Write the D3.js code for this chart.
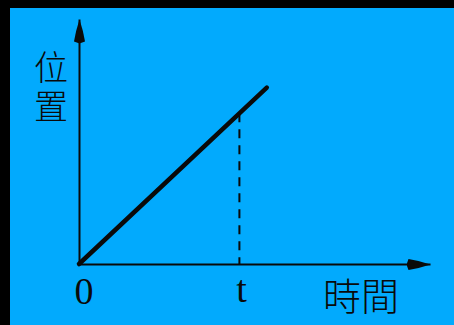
<!DOCTYPE html>
<html>
<head>
<meta charset="utf-8">
<script src="https://cdn.jsdelivr.net/npm/d3@7"></script>
<style>
  html, body { margin: 0; padding: 0; background: #000; }
  svg { display: block; }
</style>
</head>
<body>
<svg id="chart" width="454" height="325"></svg>
<script>
// Uniform motion: position grows linearly with time
const timeValues = [0, 5.35];
const positionValues = [0, 7.2];
const markedTime = 4.57;
const axisMax = { time: 10, position: 10 };
const labels = { yTitle: "位置", xTitle: "時間", origin: "0", mark: "t" };

const svg = d3.select("#chart");
const W = 454, H = 325;

// Blue panel inside a dark frame
svg.append("rect").attr("x", 0).attr("y", 0).attr("width", W).attr("height", H).attr("fill", "#000");
svg.append("rect").attr("x", 10).attr("y", 8).attr("width", W - 10).attr("height", H - 8).attr("fill", "#02aafd");

const x = d3.scaleLinear().domain([0, axisMax.time]).range([79, 430]);
const y = d3.scaleLinear().domain([0, axisMax.position]).range([264, 19]);

const ink = "#0a0a0a";

// Arrowheads: solid, slightly bulging teardrop
const defs = svg.append("defs");
["arrowX", "arrowY"].forEach(id => {
  defs.append("marker")
    .attr("id", id).attr("viewBox", "0 0 24 12")
    .attr("refX", 24).attr("refY", 6)
    .attr("markerWidth", 24).attr("markerHeight", 12)
    .attr("markerUnits", "userSpaceOnUse").attr("orient", "auto")
    .append("path").attr("d", "M0,6 L2,0.5 Q12,2 24,6 Q12,10 2,11.5 Z").attr("fill", ink);
});

// Axes (no ticks; only the baselines)
const xAxis = svg.append("g")
  .attr("transform", `translate(0,${y(0)})`)
  .call(d3.axisBottom(x).tickValues([]).tickSizeOuter(0));
xAxis.select(".domain").attr("stroke", ink).attr("stroke-width", 2).attr("marker-end", "url(#arrowX)");

const yAxis = svg.append("g")
  .attr("transform", `translate(${x(0)},0)`)
  .call(d3.axisLeft(y).tickValues([]).tickSizeOuter(0));
yAxis.select(".domain").attr("stroke", ink).attr("stroke-width", 2).attr("marker-end", "url(#arrowY)");

// Position-time line
const pts = timeValues.map((t, i) => [t, positionValues[i]]);
svg.append("path")
  .datum(pts)
  .attr("fill", "none")
  .attr("stroke", ink)
  .attr("stroke-width", 4.5)
  .attr("stroke-linecap", "round")
  .attr("d", d3.line().x(d => x(d[0])).y(d => y(d[1])));

// Dashed drop line at the marked time
const slope = positionValues[1] / timeValues[1];
svg.append("line")
  .attr("x1", x(markedTime)).attr("x2", x(markedTime))
  .attr("y1", y(markedTime * slope)).attr("y2", y(0))
  .attr("stroke", ink).attr("stroke-width", 2)
  .attr("stroke-dasharray", "9,7");

// Labels
const cjk = "'Noto Sans CJK TC', 'Noto Sans CJK JP', sans-serif";
const serif = "'Liberation Serif', 'DejaVu Serif', serif";

// Vertical axis title, stacked top to bottom
svg.append("text")
  .attr("x", 51).attr("y", 50)
  .attr("writing-mode", "vertical-rl")
  .attr("letter-spacing", 5)
  .attr("font-family", cjk).attr("font-size", 34).attr("font-weight", 300)
  .attr("fill", ink).text(labels.yTitle);

svg.append("text")
  .attr("x", 84).attr("y", 304)
  .attr("text-anchor", "middle")
  .attr("font-family", serif).attr("font-size", 38)
  .attr("fill", ink).text(labels.origin);

svg.append("text")
  .attr("x", x(markedTime) + 2).attr("y", 302)
  .attr("text-anchor", "middle")
  .attr("font-family", serif).attr("font-size", 38)
  .attr("fill", ink).text(labels.mark);

svg.append("text")
  .attr("x", 361).attr("y", 310)
  .attr("text-anchor", "middle")
  .attr("font-family", cjk).attr("font-size", 38).attr("font-weight", 300)
  .attr("fill", ink).text(labels.xTitle);
</script>
</body>
</html>
